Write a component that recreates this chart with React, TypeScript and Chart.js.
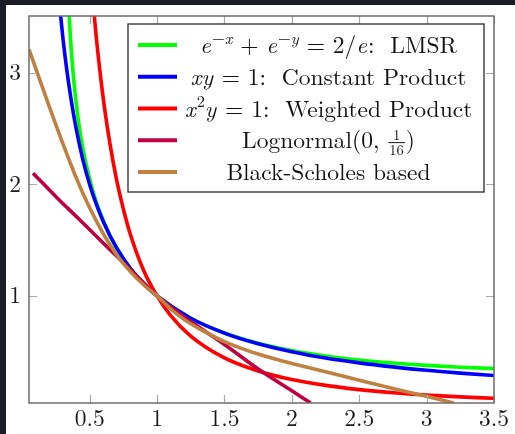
import React, { useEffect, useRef } from "react";
import { Chart, registerables } from "chart.js";

Chart.register(...registerables);

// ---- axis settings ----
const X_MIN = 0.05;
const X_MAX = 3.5;
const Y_MIN = 0.04;
const Y_MAX = 3.51;
const X_TICKS = [0.5, 1, 1.5, 2, 2.5, 3, 3.5];
const Y_TICKS = [1, 2, 3];

// ---- series ----
const LMSR_X = [0.34, 0.35, 0.36, 0.38, 0.4, 0.42, 0.45, 0.5, 0.55, 0.6, 0.65, 0.7, 0.8, 0.9, 1.0, 1.25, 1.5, 1.75, 2.0, 2.25, 2.5, 2.75, 3.0, 3.25, 3.5];
const LMSR_Y = [3.73, 3.47, 3.27, 2.96, 2.73, 2.54, 2.32, 2.05, 1.84, 1.68, 1.54, 1.43, 1.25, 1.11, 1.0, 0.8, 0.668, 0.576, 0.51, 0.461, 0.425, 0.398, 0.377, 0.361, 0.349];

const CP_X = [0.27, 0.28, 0.3, 0.33, 0.36, 0.4, 0.45, 0.5, 0.55, 0.6, 0.7, 0.8, 0.9, 1.0, 1.25, 1.5, 1.75, 2.0, 2.25, 2.5, 2.75, 3.0, 3.25, 3.5];
const CP_Y = [3.7, 3.57, 3.33, 3.03, 2.78, 2.5, 2.22, 2.0, 1.82, 1.67, 1.43, 1.25, 1.11, 1.0, 0.8, 0.667, 0.571, 0.5, 0.444, 0.4, 0.364, 0.333, 0.308, 0.286];

const WP_X = [0.5, 0.52, 0.55, 0.6, 0.65, 0.7, 0.75, 0.8, 0.9, 1.0, 1.1, 1.25, 1.5, 1.75, 2.0, 2.25, 2.5, 2.75, 3.0, 3.25, 3.5];
const WP_Y = [4.0, 3.7, 3.31, 2.78, 2.37, 2.04, 1.78, 1.56, 1.23, 1.0, 0.826, 0.64, 0.444, 0.327, 0.25, 0.198, 0.16, 0.132, 0.111, 0.095, 0.082];

const LN_X = [0.08, 0.25, 0.42, 0.6, 0.8, 1.0, 1.25, 1.5, 1.75, 2.0, 2.14];
const LN_Y = [2.1, 1.89, 1.69, 1.475, 1.24, 1.0, 0.77, 0.565, 0.345, 0.15, 0.04];

const BS_X = [0.05, 0.1, 0.2, 0.3, 0.4, 0.5, 0.6, 0.7, 0.8, 0.9, 1.0, 1.1, 1.2, 1.3, 1.4, 1.5, 1.625, 1.75, 1.875, 2.0, 2.25, 2.5, 2.75, 3.0, 3.2];
const BS_Y = [3.21, 3.04, 2.7, 2.37, 2.06, 1.79, 1.56, 1.37, 1.22, 1.1, 1.0, 0.885, 0.79, 0.715, 0.65, 0.59, 0.53, 0.48, 0.435, 0.395, 0.32, 0.245, 0.17, 0.1, 0.04];

const LABELS = [
  "e⁻ˣ + e⁻ʸ = 2/e: LMSR",
  "xy = 1: Constant Product",
  "x²y = 1: Weighted Product",
  "Lognormal(0, 1/16)",
  "Black-Scholes based",
];
const COLORS = ["#00ff00", "#0000ff", "#ff0000", "#bf0040", "#bf8040"];

type Run = { t?: string; it?: boolean; sup?: boolean; frac?: [string, string] };
const LEGEND_RUNS: Run[][] = [
  [
    { t: "e", it: true }, { t: "−", sup: true }, { t: "x", it: true, sup: true },
    { t: " + " }, { t: "e", it: true }, { t: "−", sup: true }, { t: "y", it: true, sup: true },
    { t: " = 2/" }, { t: "e", it: true }, { t: ":  LMSR" },
  ],
  [{ t: "xy", it: true }, { t: " = 1:  Constant Product" }],
  [{ t: "x", it: true }, { t: "2", sup: true }, { t: "y", it: true }, { t: " = 1:  Weighted Product" }],
  [{ t: "Lognormal(0, " }, { frac: ["1", "16"] }, { t: ")" }],
  [{ t: "Black-Scholes based" }],
];

const FONT = '"Latin Modern Roman"';
const TICK_SIZE = 23.5;
const LEG_SIZE = 23.5;

function fontStr(size: number, it?: boolean) {
  return `${it ? "italic " : ""}${size}px ${FONT}`;
}

function runWidth(ctx: CanvasRenderingContext2D, r: Run, size: number) {
  if (r.frac) {
    ctx.font = fontStr(size * 0.62);
    return Math.max(ctx.measureText(r.frac[0]).width, ctx.measureText(r.frac[1]).width) + 4;
  }
  ctx.font = fontStr(r.sup ? size * 0.7 : size, r.it);
  return ctx.measureText(r.t || "").width + (r.it && !r.sup ? 1 : 0);
}

function drawRuns(ctx: CanvasRenderingContext2D, runs: Run[], cx: number, baseline: number, size: number) {
  const widths = runs.map((r) => runWidth(ctx, r, size));
  const total = widths.reduce((a, b) => a + b, 0);
  let x = cx - total / 2;
  ctx.fillStyle = "#111";
  ctx.textBaseline = "alphabetic";
  ctx.textAlign = "left";
  runs.forEach((r, i) => {
    if (r.frac) {
      const fs = size * 0.62;
      const axis = baseline - size * 0.26;
      ctx.font = fontStr(fs);
      const w = widths[i];
      const nw = ctx.measureText(r.frac[0]).width;
      const dw = ctx.measureText(r.frac[1]).width;
      ctx.fillText(r.frac[0], x + (w - nw) / 2, axis - 2.5);
      ctx.fillText(r.frac[1], x + (w - dw) / 2, axis + fs * 0.72 + 2);
      ctx.strokeStyle = "#111";
      ctx.lineWidth = 1;
      ctx.beginPath();
      ctx.moveTo(x + 1, axis + 0.5);
      ctx.lineTo(x + w - 1, axis + 0.5);
      ctx.stroke();
    } else {
      const fs = r.sup ? size * 0.7 : size;
      ctx.font = fontStr(fs, r.it);
      ctx.fillText(r.t || "", x, r.sup ? baseline - size * 0.4 : baseline);
    }
    x += widths[i];
  });
}

const framePlugin = {
  id: "framePlugin",
  afterDatasetsDraw(chart: any) {
    const { ctx, chartArea: a, scales } = chart;
    ctx.save();
    ctx.strokeStyle = "#a8a8a8";
    ctx.lineWidth = 1.2;
    const TL = 8;
    X_TICKS.forEach((v) => {
      const px = Math.round(scales.x.getPixelForValue(v)) + 0.5;
      ctx.beginPath();
      ctx.moveTo(px, a.bottom);
      ctx.lineTo(px, a.bottom - TL);
      ctx.moveTo(px, a.top);
      ctx.lineTo(px, a.top + TL);
      ctx.stroke();
    });
    Y_TICKS.forEach((v) => {
      const py = Math.round(scales.y.getPixelForValue(v)) + 0.5;
      ctx.beginPath();
      ctx.moveTo(a.left, py);
      ctx.lineTo(a.left + TL, py);
      ctx.moveTo(a.right, py);
      ctx.lineTo(a.right - TL, py);
      ctx.stroke();
    });
    ctx.strokeStyle = "#6c6c6c";
    ctx.lineWidth = 1.5;
    ctx.strokeRect(a.left, a.top, a.right - a.left, a.bottom - a.top);

    const lx = a.left + 99;
    const ly = a.top + 8;
    const lw = a.right - 10 - lx;
    const lh = 168;
    ctx.fillStyle = "#ffffff";
    ctx.fillRect(lx, ly, lw, lh);
    ctx.strokeStyle = "#2a2a2a";
    ctx.lineWidth = 1.3;
    ctx.strokeRect(lx, ly, lw, lh);
    chart.data.datasets.forEach((ds: any, i: number) => {
      const ry = ly + 21 + i * 31.75;
      ctx.strokeStyle = ds.borderColor;
      ctx.lineWidth = 4;
      ctx.beginPath();
      ctx.moveTo(lx + 10, ry);
      ctx.lineTo(lx + 49, ry);
      ctx.stroke();
      drawRuns(ctx, LEGEND_RUNS[i], lx + 200.5, ry + 8, LEG_SIZE);
    });
    ctx.restore();
  },
};

function pts(xs: number[], ys: number[]) {
  return xs.map((x, i) => ({ x, y: ys[i] }));
}

export default function App() {
  const ref = useRef<HTMLCanvasElement | null>(null);
  useEffect(() => {
    let chart: any = null;
    let cancelled = false;
    const build = () => {
      if (cancelled || !ref.current) return;
      const series = [
        pts(LMSR_X, LMSR_Y),
        pts(CP_X, CP_Y),
        pts(WP_X, WP_Y),
        pts(LN_X, LN_Y),
        pts(BS_X, BS_Y),
      ];
      const orders = [4, 3, 2, 1, 0];
      const tickFont = { family: FONT, size: TICK_SIZE };
      chart = new Chart(ref.current, {
        type: "line",
        data: {
          datasets: series.map((d, i) => ({
            label: LABELS[i],
            data: d,
            borderColor: COLORS[i],
            backgroundColor: COLORS[i],
            borderWidth: 3.6,
            pointRadius: 0,
            fill: false,
            cubicInterpolationMode: "monotone",
            clip: 0,
            order: orders[i],
          })),
        },
        options: {
          responsive: false,
          maintainAspectRatio: false,
          animation: false,
          layout: { padding: { top: 11, right: 21, left: 0, bottom: 0 } },
          plugins: { legend: { display: false }, tooltip: { enabled: false } },
          scales: {
            x: {
              type: "linear",
              min: X_MIN,
              max: X_MAX,
              grid: { display: false, drawTicks: false },
              border: { display: false },
              ticks: {
                font: tickFont,
                color: "#1a1a1a",
                padding: 2,
                maxRotation: 0,
                autoSkip: false,
                callback: (v: any) => String(v),
              },
              afterBuildTicks: (s: any) => {
                s.ticks = X_TICKS.map((value) => ({ value }));
              },
              afterFit: (s: any) => {
                s.height = 31;
                s.paddingLeft = 0;
                s.paddingRight = 0;
              },
            },
            y: {
              type: "linear",
              min: Y_MIN,
              max: Y_MAX,
              grid: { display: false, drawTicks: false },
              border: { display: false },
              ticks: {
                font: tickFont,
                color: "#1a1a1a",
                padding: 8,
                autoSkip: false,
                callback: (v: any) => String(v),
              },
              afterBuildTicks: (s: any) => {
                s.ticks = Y_TICKS.map((value) => ({ value }));
              },
              afterFit: (s: any) => {
                s.width = 23;
                s.paddingTop = 0;
                s.paddingBottom = 0;
              },
            },
          },
        } as any,
        plugins: [framePlugin],
      });
    };
    const fonts: any = (document as any).fonts;
    if (fonts && fonts.load) {
      Promise.all([
        fonts.load('24px "Latin Modern Roman"'),
        fonts.load('italic 24px "Latin Modern Roman"'),
      ])
        .catch(() => null)
        .then(() => build());
    } else {
      build();
    }
    return () => {
      cancelled = true;
      if (chart) chart.destroy();
    };
  }, []);

  return (
    <div style={{ position: "absolute", left: 0, top: 0, width: 515, height: 434, background: "#1c1c26", overflow: "hidden" }}>
      <canvas
        ref={ref}
        width={509}
        height={429}
        style={{ position: "absolute", left: 6, top: 5, width: 509, height: 429, background: "#ffffff" }}
      />
    </div>
  );
}
